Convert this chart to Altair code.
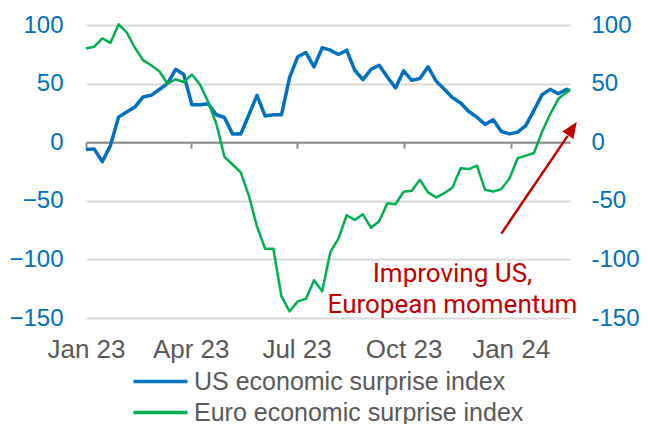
import altair as alt
import pandas as pd

# ---------------- data ----------------
start = pd.Timestamp("2023-01-01")
week_dates = [(start + pd.Timedelta(weeks=i)).strftime("%Y-%m-%d") for i in range(60)]
dates = week_dates + ["2024-02-21"]

us_values = [
    -6.3, -5.7, -16.6, -2.9, 21.4, 25.7, 30.0, 38.6, 40.0, 45.0,
    50.0, 62.2, 57.7, 32.0, 32.0, 32.8, 23.4, 21.1, 6.9, 6.9,
    23.4, 40.0, 22.3, 23.4, 23.4, 55.3, 72.9, 76.5, 64.3, 80.6,
    78.5, 74.8, 78.5, 61.4, 53.4, 62.2, 65.7, 55.7, 46.3, 60.9,
    52.8, 54.3, 64.3, 52.0, 45.1, 38.0, 33.4, 26.2, 21.4, 15.1,
    19.1, 9.1, 7.1, 8.6, 14.2, 27.1, 40.5, 45.1, 41.4, 45.1,
    43.4,
]
euro_values = [
    80.0, 81.4, 88.5, 84.8, 100.5, 93.7, 80.6, 70.0, 65.7, 60.5,
    50.0, 53.7, 51.4, 57.7, 49.1, 34.3, 15.7, -12.5, -19.0, -25.7,
    -45.7, -72.0, -90.9, -90.9, -131.5, -144.3, -135.8, -133.7, -117.8, -127.2,
    -93.8, -82.3, -62.3, -66.3, -61.5, -73.0, -67.5, -52.0, -52.9, -42.3,
    -41.5, -32.0, -42.9, -47.1, -43.5, -38.6, -22.3, -22.9, -20.0, -40.6,
    -42.0, -40.0, -30.9, -13.7, -11.5, -9.2, 9.0, 24.0, 37.0, 42.5,
    45.5,
]

series_names = ["US economic surprise index", "Euro economic surprise index"]
series_colors = ["#0070C0", "#00B050"]
tick_dates = ["2023-01-01", "2023-04-01", "2023-07-01", "2023-10-01", "2024-01-01"]
y_ticks = [-150, -100, -50, 0, 50, 100]

ann_text = ["Improving US,", "European momentum"]
ann_x = ["2023-11-12", "2023-11-12"]
ann_y = [-119.0, -145.5]

arrow_x, arrow_y = "2023-12-24", -78.0
arrow_x2, arrow_y2 = "2024-02-19", 5.4
head_x, head_y = "2024-02-23", 11.6

# ---------------- frames ----------------
us_df = pd.DataFrame({"date": dates, "value": us_values, "series": series_names[0]})
eu_df = pd.DataFrame({"date": dates, "value": euro_values, "series": series_names[1]})
ann_df = pd.DataFrame({"date": ann_x, "value": ann_y, "text": ann_text})
arrow_df = pd.DataFrame({"date": [arrow_x], "value": [arrow_y], "date2": [arrow_x2], "value2": [arrow_y2]})
head_df = pd.DataFrame({"date": [head_x], "value": [head_y]})


def dt(s):
    y, m, d = (int(p) for p in s.split("-"))
    return alt.DateTime(year=y, month=m, date=d, utc=True)


xscale = alt.Scale(type="utc", domain=[dt("2023-01-01"), dt("2024-02-21")])
yscale = alt.Scale(domain=[-150, 100], nice=False, zero=False)
cscale = alt.Scale(domain=series_names, range=series_colors)

AXIS_FONT = "Liberation Sans"

legend = alt.Legend(
    title=None, orient="none", legendX=62, legendY=344, direction="vertical",
    symbolType="M-4,0H4", symbolSize=182, symbolStrokeWidth=3.5,
    labelFont=AXIS_FONT, labelFontSize=25, labelColor="#595959",
    labelOffset=21, rowPadding=5, padding=0, labelLimit=600,
)

zero_axis = alt.Axis(
    orient="bottom", offset=-175.8, labels=False, ticks=True, tickSize=6, tickWidth=2,
    tickColor="#8C8C8C", domainColor="#8C8C8C", domainWidth=2, grid=False,
    values=[dt(d) for d in tick_dates], title=None,
)
label_axis = alt.Axis(
    orient="bottom", values=[dt(d) for d in tick_dates], format="%b %y",
    ticks=False, tickSize=0, domain=False, grid=False, labelFont=AXIS_FONT,
    labelFontSize=26, labelColor="#595959", labelPadding=18, labelFlush=False,
    labelOverlap=False, title=None,
)
left_axis = alt.Axis(
    orient="left", values=y_ticks, ticks=False, domain=False, grid=True,
    gridColor="#D9D9D9", gridWidth=2, labelFont=AXIS_FONT, labelFontSize=24,
    labelColor="#0070C0", labelPadding=23, title=None,
)
right_axis = alt.Axis(
    orient="right", values=y_ticks, ticks=False, domain=False, grid=False,
    labelFont=AXIS_FONT, labelFontSize=24, labelColor="#0070C0",
    labelPadding=21, labelExpr="'' + datum.value", title=None,
)

us_line = alt.Chart(us_df).mark_line(strokeWidth=3.5, strokeJoin="round").encode(
    x=alt.X("date:T", scale=xscale, axis=zero_axis),
    y=alt.Y("value:Q", scale=yscale, axis=left_axis),
    color=alt.Color("series:N", scale=cscale, legend=legend),
)
eu_line = alt.Chart(eu_df).mark_line(strokeWidth=2.5, strokeJoin="round").encode(
    x=alt.X("date:T", scale=xscale, axis=label_axis),
    y=alt.Y("value:Q", scale=yscale, axis=right_axis),
    color=alt.Color("series:N", scale=cscale, legend=legend),
)

ann = alt.Chart(ann_df).mark_text(
    font="Roboto", fontSize=26, color="#C00000", align="center", baseline="alphabetic"
).encode(
    x=alt.X("date:T", scale=xscale, axis=None),
    y=alt.Y("value:Q", scale=yscale, axis=None),
    text="text:N",
)
arrow = alt.Chart(arrow_df).mark_rule(color="#C00000", strokeWidth=2.5).encode(
    x=alt.X("date:T", scale=xscale, axis=None),
    y=alt.Y("value:Q", scale=yscale, axis=None),
    x2="date2:T",
    y2="value2:Q",
)
head = alt.Chart(head_df).mark_point(
    shape="M0,-1L-0.85,1L0.85,1Z", filled=True, size=250, angle=34,
    color="#C00000", opacity=1, strokeWidth=0,
).encode(
    x=alt.X("date:T", scale=xscale, axis=None),
    y=alt.Y("value:Q", scale=yscale, axis=None),
)

chart = (
    alt.layer(us_line, eu_line, arrow, head, ann)
    .resolve_axis(x="independent", y="independent")
    .properties(
        width=484, height=293,
        autosize=alt.AutoSizeParams(type="none"),
        padding={"left": 78, "top": 17, "right": 70, "bottom": 106},
        background="white",
    )
    .configure_view(stroke=None)
)

chart.save("out.html", embed_options={"renderer": "svg", "actions": False})
